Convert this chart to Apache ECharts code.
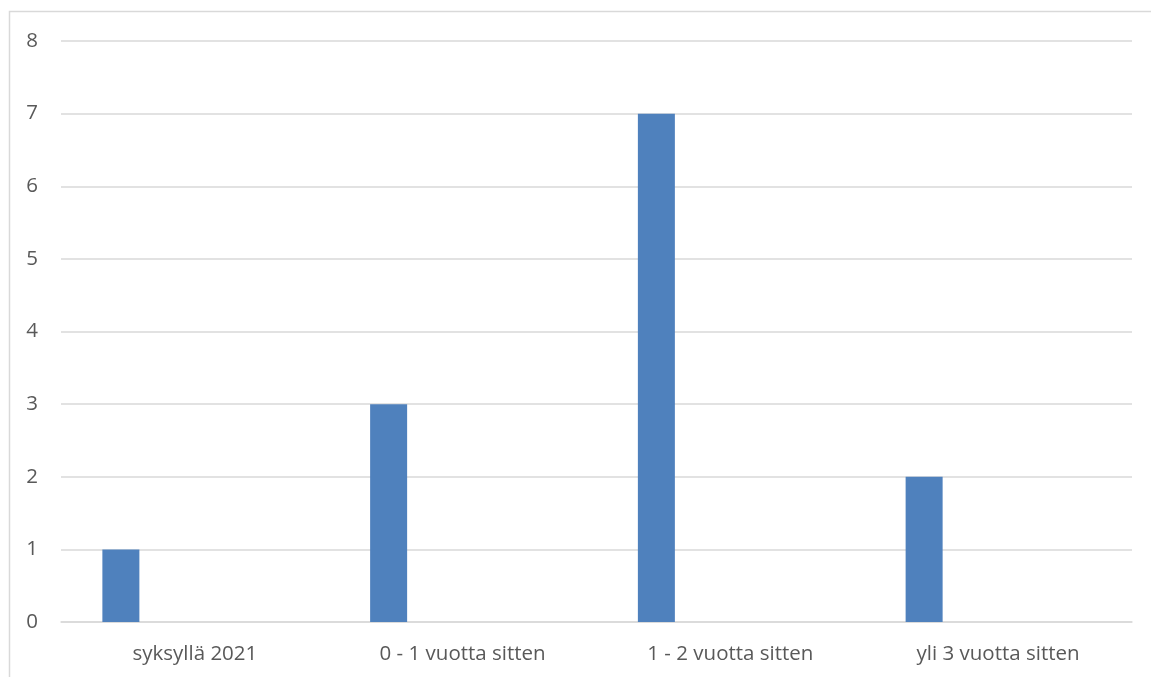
<!DOCTYPE html>
<html>
<head>
<meta charset="utf-8">
<script src="https://cdn.jsdelivr.net/npm/echarts@6/dist/echarts.min.js"></script>
<style>
html,body{margin:0;padding:0;background:#fff;}
#c{width:1151px;height:677px;}
</style>
</head>
<body>
<div id="c"></div>
<script>
const categories = ['syksyllä 2021', '0 - 1 vuotta sitten', '1 - 2 vuotta sitten', 'yli 3 vuotta sitten'];
const values = [1, 3, 7, 2];
const emptySlots = [null, null, null, null];
const yTicks = [0, 1, 2, 3, 4, 5, 6, 7, 8];

const chart = echarts.init(document.getElementById('c'), null, {renderer: 'canvas'});
const font = '"Open Sans", "Noto Sans", sans-serif';
const series = [{
  type: 'bar', data: values, barWidth: 37, barGap: '0%',
  itemStyle: {color: '#4f81bd'}, silent: true
}];
for (let i = 0; i < 4; i++) {
  series.push({type: 'bar', data: emptySlots, barWidth: 37, barGap: '0%', silent: true});
}
chart.setOption({
  animation: false,
  grid: {left: 61, right: 19, top: 41, bottom: 55, containLabel: false},
  graphic: [{
    type: 'rect', shape: {x: 9.5, y: 11.5, width: 1300, height: 800},
    style: {fill: 'none', stroke: '#d9d9d9', lineWidth: 1.5}, silent: true
  }],
  xAxis: {
    type: 'category', data: categories,
    axisLine: {show: true, lineStyle: {color: '#d9d9d9', width: 1.5}},
    axisTick: {show: false},
    axisLabel: {color: '#595959', fontSize: 20.5, fontFamily: font, margin: 22}
  },
  yAxis: {
    type: 'value', min: yTicks[0], max: yTicks[yTicks.length - 1], interval: 1,
    axisLine: {show: false}, axisTick: {show: false},
    splitLine: {lineStyle: {color: '#d9d9d9', width: 1.5}},
    axisLabel: {color: '#595959', fontSize: 20.5, fontFamily: font, margin: 23}
  },
  series: series
});
</script>
</body>
</html>
